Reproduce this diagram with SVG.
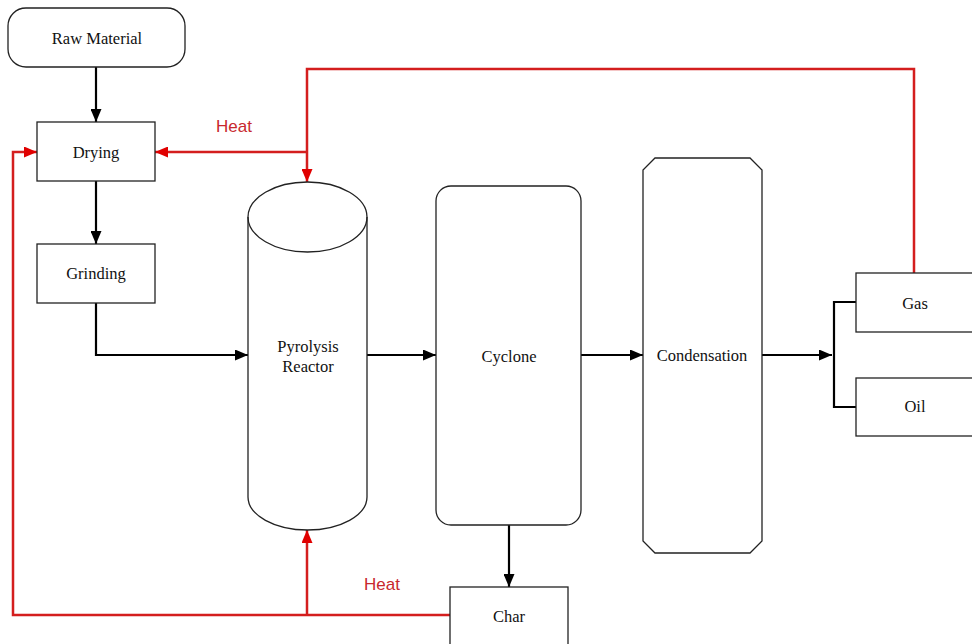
<svg xmlns="http://www.w3.org/2000/svg" width="972" height="644" viewBox="0 0 972 644">
<style>
.node{fill:#fff;stroke:#222;stroke-width:1.3}
.lbl{font-family:"Liberation Serif","Times New Roman",serif;font-size:16.5px;fill:#111;text-anchor:middle;dominant-baseline:central}
.heat{font-family:"Liberation Sans",Arial,sans-serif;font-size:17px;fill:#c8282d}
.blk{fill:none;stroke:#000;stroke-width:2.2}
.red{fill:none;stroke:#d41e1e;stroke-width:2.5}
</style>
<defs>
<marker id="ab" viewBox="0 0 13 11" refX="13" refY="5.5" markerWidth="13" markerHeight="11" markerUnits="userSpaceOnUse" orient="auto"><path d="M0,0L13,5.5L0,11z" fill="#000"/></marker>
<marker id="ar" viewBox="0 0 13 11" refX="13" refY="5.5" markerWidth="13" markerHeight="11" markerUnits="userSpaceOnUse" orient="auto"><path d="M0,0L13,5.5L0,11z" fill="#e00000"/></marker>
</defs>
<rect width="972" height="644" fill="#fff"/>
<g id="connectors">
<line class="blk" x1="96" y1="67" x2="96" y2="122" marker-end="url(#ab)"/>
<line class="blk" x1="96" y1="181" x2="96" y2="244" marker-end="url(#ab)"/>
<polyline class="blk" points="96,303 96,355 248,355" marker-end="url(#ab)"/>
<line class="blk" x1="367" y1="355" x2="436" y2="355" marker-end="url(#ab)"/>
<line class="blk" x1="581" y1="355" x2="643" y2="355" marker-end="url(#ab)"/>
<line class="blk" x1="762" y1="355" x2="832" y2="355" marker-end="url(#ab)"/>
<polyline class="blk" points="856,302 834,302 834,407 856,407"/>
<line class="blk" x1="509" y1="525" x2="509" y2="587" marker-end="url(#ab)"/>
<polyline class="red" points="914,273 914,69 307,69 307,182" marker-end="url(#ar)"/>
<polyline class="red" points="307,152 155,152" marker-end="url(#ar)"/>
<polyline class="red" points="450,615 13,615 13,152 37,152" marker-end="url(#ar)"/>
<polyline class="red" points="307,615 307,530" marker-end="url(#ar)"/>
<text class="heat" x="216" y="132">Heat</text>
<text class="heat" x="364" y="590">Heat</text>
</g>
<g id="raw-material"><rect class="node" x="8" y="8" width="177" height="59" rx="18"/><text class="lbl" x="97" y="38">Raw Material</text></g>
<g id="drying"><rect class="node" x="37" y="122" width="118" height="59"/><text class="lbl" x="96" y="152">Drying</text></g>
<g id="grinding"><rect class="node" x="37" y="244" width="118" height="59"/><text class="lbl" x="96" y="273">Grinding</text></g>
<g id="pyrolysis-reactor">
<path class="node" d="M248,217 L248,497 A59.5,33 0 0 0 367,497 L367,217 A59.5,35 0 0 0 248,217 Z"/>
<path class="node" style="fill:none" d="M248,217 A59.5,35 0 0 0 367,217"/>
<text class="lbl" x="308" y="346">Pyrolysis</text><text class="lbl" x="308" y="366">Reactor</text>
</g>
<g id="cyclone"><rect class="node" x="436" y="186" width="145" height="339" rx="15"/><text class="lbl" x="509" y="356">Cyclone</text></g>
<g id="condensation"><polygon class="node" points="655,158 750,158 762,170 762,541 750,553 655,553 643,541 643,170"/><text class="lbl" x="702" y="355">Condensation</text></g>
<g id="gas"><rect class="node" x="856" y="273" width="120" height="59"/><text class="lbl" x="915" y="303">Gas</text></g>
<g id="oil"><rect class="node" x="856" y="378" width="120" height="58"/><text class="lbl" x="915" y="406">Oil</text></g>
<g id="char"><rect class="node" x="450" y="587" width="118" height="62"/><text class="lbl" x="509" y="616">Char</text></g>
</svg>
